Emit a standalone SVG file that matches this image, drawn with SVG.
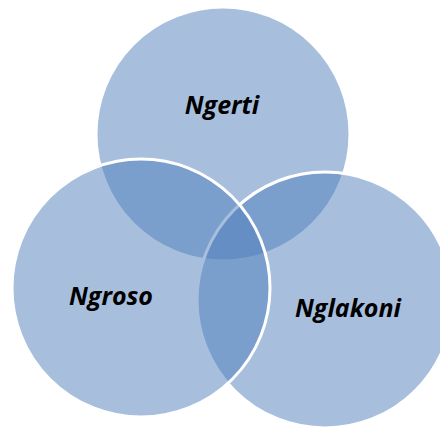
<svg xmlns="http://www.w3.org/2000/svg" width="440" height="430" viewBox="0 0 440 430">
<style>
.c{fill:#4f7fbb;fill-opacity:0.5;stroke:#ffffff;stroke-width:3}
.t{font-family:"Open Sans","Noto Sans",sans-serif;font-weight:bold;font-style:italic;font-size:25px;fill:#000;text-anchor:middle}
</style>
<rect width="440" height="430" fill="#ffffff"/>
<g id="ngerti"><circle class="c" cx="223" cy="134" r="127"/><text class="t" x="222" y="114">Ngerti</text></g>
<g id="nglakoni"><circle class="c" cx="325" cy="300" r="128"/><text class="t" x="348" y="317">Nglakoni</text></g>
<g id="ngroso"><circle class="c" cx="141" cy="288" r="129"/><text class="t" x="111" y="305">Ngroso</text></g>
<g id="connectors"/>
</svg>
